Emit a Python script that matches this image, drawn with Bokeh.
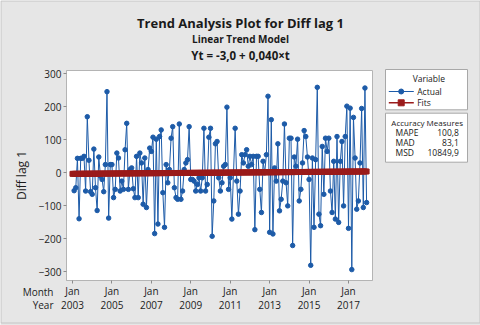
from bokeh.plotting import figure
from bokeh.models import Range1d, FixedTicker, ColumnDataSource
from bokeh.core.properties import value
from bokeh.embed import file_html
from bokeh.resources import INLINE

# ---- data -------------------------------------------------------------
tick_years = [2003, 2005, 2007, 2009, 2011, 2013, 2015, 2017]
tick_month = "Jan"
y_ticks = [-300, -200, -100, 0, 100, 200, 300]
n_periods = 180          # t = 1 .. 180  (Jan 2003 .. Dec 2017)
first_actual_t = 2       # first difference is missing for t = 1

actual = [
    -54, -45, 44, -139, 44, 44, 50, -55, 170, 38, -57, -65, 72, -45, -114, 48, -10, -20, -57, 25,
    246, -137, 25, 25, -75, -50, 60, 45, -55, -25, -50, 70, 150, -50, 10,
    15, -48, -75, 50, -75, 60, 30, -95, 45, -105, 10, 75, 65, 108, -184, 102, -155, 110, 130, -60,
    -165, 25, -30, 10, 105, 140, -45, -75, -80, 148, -80, -55, 10, 30, 40, 140, -20,
    -20, -25, -55, -35, -15, -55, -15, 135, -55, -35, 108, 135, -192, -85, 88, 95, -15, -55, -30, 20,
    25, 199, -50, -15, -140, 0, 135, -25, -125, -55, 55, 30, 55, 70, 20, 50,
    25, 50, -172, 50, 50, -50, -120, 35, 0, 55, 232, -180, 161, -185, 15, -25, 88, -115, -80, -25,
    148, -30, -100, 105, 105, -220, 48, 20, 102, -85, -50, 30, 128, 110, 48, -20, -280,
    45, -165, 40, 259, -125, -160, 80, -65, 105, 65, 105, -55, -120, 35, -140, 110, -150, 35, 95, -100,
    110, 202, -168, 196, -293, 168, 45, -110, -85, 30, 195, -105, 257, -90,
]
trend_intercept = -3.0
trend_slope = 0.040

title_main = "Trend Analysis Plot for Diff lag 1"
title_sub = "Linear Trend Model"
title_eq = "Yt = -3,0 + 0,040\u00d7t"
legend_title = "Variable"
legend_labels = ["Actual", "Fits"]
accuracy_title = "Accuracy Measures"
accuracy_names = ["MAPE", "MAD", "MSD"]
accuracy_values = ["100,8", "83,1", "10849,9"]

# ---- derived ----------------------------------------------------------
t_actual = list(range(first_actual_t, first_actual_t + len(actual)))
t_all = list(range(1, n_periods + 1))
fits = [trend_intercept + trend_slope * t for t in t_all]

BLUE = "#1D5BA8"
RED = "#9A1B1B"
GRAY = "#E6E6E6"
EDGE = "#B4B4B4"
FONT = "Open Sans"
TXT = "#1A1A1A"

# ---- geometry (canvas pixels) -----------------------------------------
W, H = 480, 325
box_px = (66, 372, 70, 280)          # plot box: left, right, top, bottom (px)
x_lo, x_hi = -2.65, 183.6            # data limits of the plot box
y_lo, y_hi = -326.0, 310.0
kx = (box_px[1] - box_px[0]) / (x_hi - x_lo)
ky = (box_px[3] - box_px[2]) / (y_hi - y_lo)
x_start = x_lo - box_px[0] / kx
x_end = x_hi + (W - box_px[1]) / kx
y_end = y_hi + box_px[2] / ky
y_start = y_lo - (H - box_px[3]) / ky

p = figure(width=W, height=H, output_backend="svg", toolbar_location=None, title=None,
           x_range=Range1d(x_start, x_end), y_range=Range1d(y_start, y_end),
           min_border=0, background_fill_color=GRAY, border_fill_color=GRAY,
           outline_line_color=None)
p.grid.visible = False
p.extra_x_ranges = {"px": Range1d(0, W)}
p.extra_y_ranges = {"px": Range1d(H, 0)}
px = dict(x_range_name="px", y_range_name="px")

# outer picture border
p.quad(left=[0.5], right=[479.5], top=[0.5], bottom=[322.5], fill_color=None,
       line_color="#C4C4C4", line_width=1, level="underlay", **px)

# plot box
p.quad(left=[x_lo], right=[x_hi], bottom=[y_lo], top=[y_hi],
       fill_color="white", line_color=EDGE, line_width=1, level="underlay")

src_a = ColumnDataSource(dict(t=t_actual, y=actual))
src_f = ColumnDataSource(dict(t=t_all, y=fits))
p.line("t", "y", source=src_a, line_color=BLUE, line_width=1)
p.scatter("t", "y", source=src_a, marker="circle", size=4.5, fill_color=BLUE, line_color=BLUE)
p.line("t", "y", source=src_f, line_color=RED, line_width=2.5)
p.scatter("t", "y", source=src_f, marker="square", size=5, fill_color=RED, line_color=RED)

# axes drawn at the plot box edges
tick_t = [1 + 12 * (yr - tick_years[0]) for yr in tick_years]
p.xaxis.ticker = FixedTicker(ticks=tick_t)
p.xaxis.major_label_overrides = {t: f"{tick_month}\n{yr}" for t, yr in zip(tick_t, tick_years)}
p.yaxis.ticker = FixedTicker(ticks=y_ticks)
p.xaxis.fixed_location = y_lo
p.yaxis.fixed_location = x_lo
p.xaxis.bounds = (x_lo, x_hi)
p.yaxis.bounds = (y_lo, y_hi)
for ax in (p.xaxis[0], p.yaxis[0]):
    ax.axis_line_color = EDGE
    ax.major_tick_line_color = "#8C8C8C"
    ax.major_tick_out = 3
    ax.major_tick_in = 0
    ax.minor_tick_line_color = None
    ax.major_label_text_font = FONT
    ax.major_label_text_font_size = "10px"
    ax.major_label_text_color = "#222222"
p.xaxis.major_label_standoff = 0
p.xaxis.major_label_text_line_height = 1.05
p.yaxis.major_label_standoff = 2
p.yaxis.axis_label = "Diff lag 1"
p.yaxis.axis_label_text_font = FONT
p.yaxis.axis_label_text_font_size = "12px"
p.yaxis.axis_label_text_font_style = "normal"
p.yaxis.axis_label_text_color = TXT
p.yaxis.axis_label_standoff = 6

tf = value(FONT)

def txt(xs, ys, texts, size, align="left", bold=False, color=TXT):
    p.text(xs, ys, text=texts, text_font=tf, text_font_size=size,
           text_font_style="bold" if bold else "normal",
           text_align=align, text_baseline="middle", text_color=color, **px)

# titles
txt([240], [22], [title_main], "13px", align="center", bold=True)
txt([240], [38.5], [title_sub], "10px", align="center", bold=True)
txt([240], [55], [title_eq], "11.5px", align="center", bold=True)

# Month / Year row labels
txt([53, 53], [291, 304.5], ["Month", "Year"], "10px", align="right", color="#222222")

# legend boxes
p.quad(left=[385, 385], right=[467, 467], top=[69, 112.7], bottom=[109.3, 161.7],
       fill_color="white", line_color="#A8A8A8", line_width=1, **px)
p.line([388.3, 413.3], [91, 91], line_color=BLUE, line_width=1, **px)
p.scatter([400.7], [91], marker="circle", size=5, fill_color=BLUE, line_color=BLUE, **px)
p.line([388.3, 413.3], [102.3, 102.3], line_color=RED, line_width=1.5, **px)
p.scatter([400.7], [102.3], marker="square", size=6, fill_color=RED, line_color=RED, **px)
txt([428.3], [78.3], [legend_title], "8.5px", align="center")
txt([416.7, 416.7], [91, 102.3], legend_labels, "8.5px")
txt([426.7], [121.7], [accuracy_title], "8px", align="center")
txt([395] * 3, [131.7, 141.7, 151.7], accuracy_names, "8.5px")
txt([458.3] * 3, [131.7, 141.7, 151.7], accuracy_values, "8.5px", align="right")

open("out.html", "w").write(file_html(p, INLINE))
